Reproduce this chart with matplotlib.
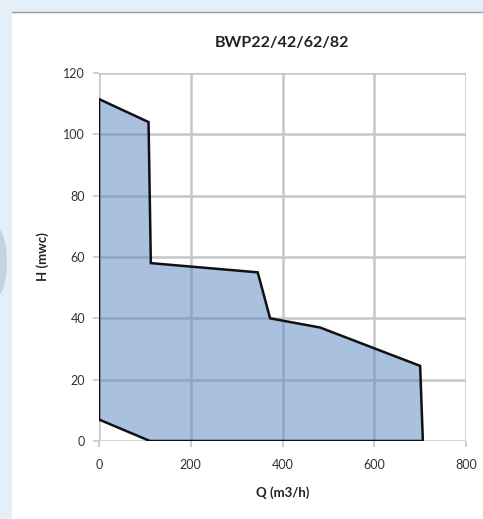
import matplotlib
matplotlib.use("Agg")
import matplotlib.pyplot as plt
from matplotlib.patches import Rectangle, Ellipse
from matplotlib.lines import Line2D

# Data: operating envelope of the pump family
q_values = [0, 0, 108, 113, 346, 373, 482, 700, 706, 111]
h_values = [7, 111.5, 104, 58, 55, 40, 37, 24.5, 0, 0]
x_ticks = [0, 200, 400, 600, 800]
y_ticks = [0, 20, 40, 60, 80, 100, 120]
title = "BWP22/42/62/82"
x_label = "Q (m3/h)"
y_label = "H (mwc)"

plt.rcParams['font.family'] = ['Lato', 'DejaVu Sans']

fig = plt.figure(figsize=(4.83, 5.19), dpi=100)
fig.patch.set_facecolor("#e4eff7")

# white panel
fig.patches.append(Rectangle((12 / 483, 0), 1 - 12 / 483, 1 - 12 / 519,
                             transform=fig.transFigure, facecolor="white",
                             edgecolor="none", zorder=-2))
fig.lines.append(Line2D([12 / 483, 1], [1 - 12 / 519, 1 - 12 / 519],
                        transform=fig.transFigure, color="#9a9a9a", lw=1.0,
                        zorder=-1))
fig.patches.append(Ellipse((-4 / 483, 1 - 262 / 519), 22 / 483, 70 / 519,
                           transform=fig.transFigure, facecolor="#b8c0c6",
                           edgecolor="none", alpha=0.6, zorder=-1))

ax = fig.add_axes([99 / 483, 78 / 519, 367 / 483, 368 / 519], zorder=1)
ax.set_facecolor("none")

ax.fill(q_values, h_values, facecolor=(96 / 255, 140 / 255, 196 / 255),
        alpha=0.54, edgecolor="none", zorder=2)
ax.fill(q_values, h_values, facecolor="none", edgecolor="#111111",
        lw=1.8, joinstyle="miter", zorder=3)

ax.set_xlim(0, 800)
ax.set_ylim(0, 120)
ax.set_xticks(x_ticks)
ax.set_yticks(y_ticks)
ax.grid(True, color="#c6c6c6", lw=1.8, zorder=1)
ax.set_axisbelow(True)
for s in ax.spines.values():
    s.set_visible(False)
ax.tick_params(axis="both", length=4, width=1.2, color="#c6c6c6",
               labelsize=9, labelcolor="#333333")
ax.tick_params(axis="x", pad=9)
ax.tick_params(axis="y", pad=6)

ax.set_title(title, fontsize=11.5, fontweight="bold", color="#222222", pad=19)
ax.set_xlabel(x_label, fontsize=9.5, fontweight="bold", color="#222222",
              labelpad=11)
ax.set_ylabel(y_label, fontsize=9.5, fontweight="bold", color="#222222",
              labelpad=10)

fig.savefig("out.png", dpi=100)
